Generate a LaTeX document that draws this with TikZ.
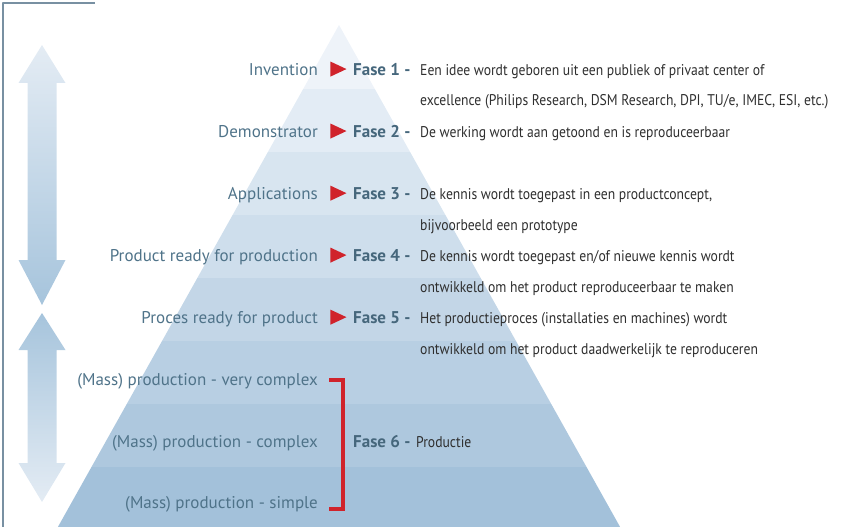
\documentclass[tikz,border=0pt]{standalone}
\usepackage{fontspec}
\setmainfont{PT Sans}
\newfontfamily\descfont{PT Sans}[FakeStretch=0.88]
\usetikzlibrary{positioning,shapes.geometric}
\definecolor{pyrtop}{HTML}{EEF3F9}
\definecolor{pyrbot}{HTML}{A3C1DA}
\definecolor{arrlight}{HTML}{E4ECF4}
\definecolor{arrdark}{HTML}{A6C4DC}
\definecolor{labc}{HTML}{4F7389}
\definecolor{fasec}{HTML}{46677C}
\definecolor{txtc}{HTML}{2F2F2F}
\definecolor{redc}{HTML}{D0232B}
\definecolor{framec}{HTML}{7890A2}
\tikzset{
  lab/.style={anchor=base east, inner sep=0pt, text=labc, font=\fontsize{17}{19}\selectfont},
  fase/.style={anchor=base west, inner sep=0pt, text=fasec, font=\fontsize{17}{19}\selectfont\bfseries},
  desc/.style={anchor=base west, inner sep=0pt, text=txtc, font=\descfont\fontsize{15.5}{17}\selectfont},
  pijl/.style={isosceles triangle, isosceles triangle stretches, fill=redc, inner sep=0pt,
    minimum width=15pt, minimum height=16pt},
}
\begin{document}
\begin{tikzpicture}[x=1pt,y=-1pt, line join=round]
  \def\xa{339} \def\ya{25} \def\sl{0.56} % top van de piramide
  \useasboundingbox (0,0) rectangle (841,527);
  % piramide in banden
  \begin{scope}
    \clip (\xa,\ya) -- (\xa+\sl*600,\ya+600) -- (\xa-\sl*600,\ya+600) -- cycle;
    \foreach \i in {0,...,7}{
      \pgfmathsetmacro\p{\i*100/7}
      \pgfmathsetmacro\yb{(\i==0 ? 0 : 26+63*\i)}
      \fill[pyrbot!\p!pyrtop] (0,\yb) rectangle (841,89+63*\i);
    }
  \end{scope}
  % kader
  \draw[framec, line width=1.2pt] (3,527) -- (3,3) -- (95,3);
  % dubbele pijlen links
  \shade[top color=arrlight, bottom color=arrdark]
    (42,45) -- (65.5,83) -- (56.5,83) -- (56.5,260) -- (65.5,260) -- (42,305)
    -- (18.5,260) -- (27.5,260) -- (27.5,83) -- (18.5,83) -- cycle;
  \shade[top color=arrdark, bottom color=arrlight]
    (42,313) -- (65.5,350) -- (56.5,350) -- (56.5,463) -- (65.5,463) -- (42,502)
    -- (18.5,463) -- (27.5,463) -- (27.5,350) -- (18.5,350) -- cycle;
  % fasen 1 t/m 5
  \foreach \b/\lab/\n in {75/Invention/1, 137/Demonstrator/2, 199/Applications/3,
      261/Product ready for production/4, 323/Proces ready for product/5}{
    \node[fase] (f\n) at (353,\b) {Fase \n\ -};
    \node[pijl, left=6pt of f\n] (t\n) {};
    \node[lab] (l\n) at (318,\b) {\lab};
  }
  \node[desc] (d1a) at (420,75) {Een idee wordt geboren uit een publiek of privaat center of};
  \node[desc] (d1b) at (420,106) {excellence (Philips Research, DSM Research, DPI, TU/e, IMEC, ESI, etc.)};
  \node[desc] (d2a) at (420,137) {De werking wordt aan getoond en is reproduceerbaar};
  \node[desc] (d3a) at (420,199) {De kennis wordt toegepast in een productconcept,};
  \node[desc] (d3b) at (420,230) {bijvoorbeeld een prototype};
  \node[desc] (d4a) at (420,261) {De kennis wordt toegepast en/of nieuwe kennis wordt};
  \node[desc] (d4b) at (420,292) {ontwikkeld om het product reproduceerbaar te maken};
  \node[desc] (d5a) at (420,323) {Het productieproces (installaties en machines) wordt};
  \node[desc] (d5b) at (420,354) {ontwikkeld om het product daadwerkelijk te reproduceren};
  % fase 6
  \node[lab] (m1) at (318,385) {(Mass) production - very complex};
  \node[lab] (m2) at (318,447) {(Mass) production - complex};
  \node[lab] (m3) at (318,508) {(Mass) production - simple};
  \node[fase] (f6) at (353,447) {Fase 6 -};
  \node[desc] (d6) at (416,447) {Productie};
  \coordinate (k1) at (329,380);
  \coordinate (k2) at (343,380);
  \coordinate (k3) at (343,509);
  \coordinate (k4) at (329,509);
  \draw[redc, line width=4pt, line join=miter] (k1) -- (k2) -- (k3) -- (k4);
\end{tikzpicture}
\end{document}
